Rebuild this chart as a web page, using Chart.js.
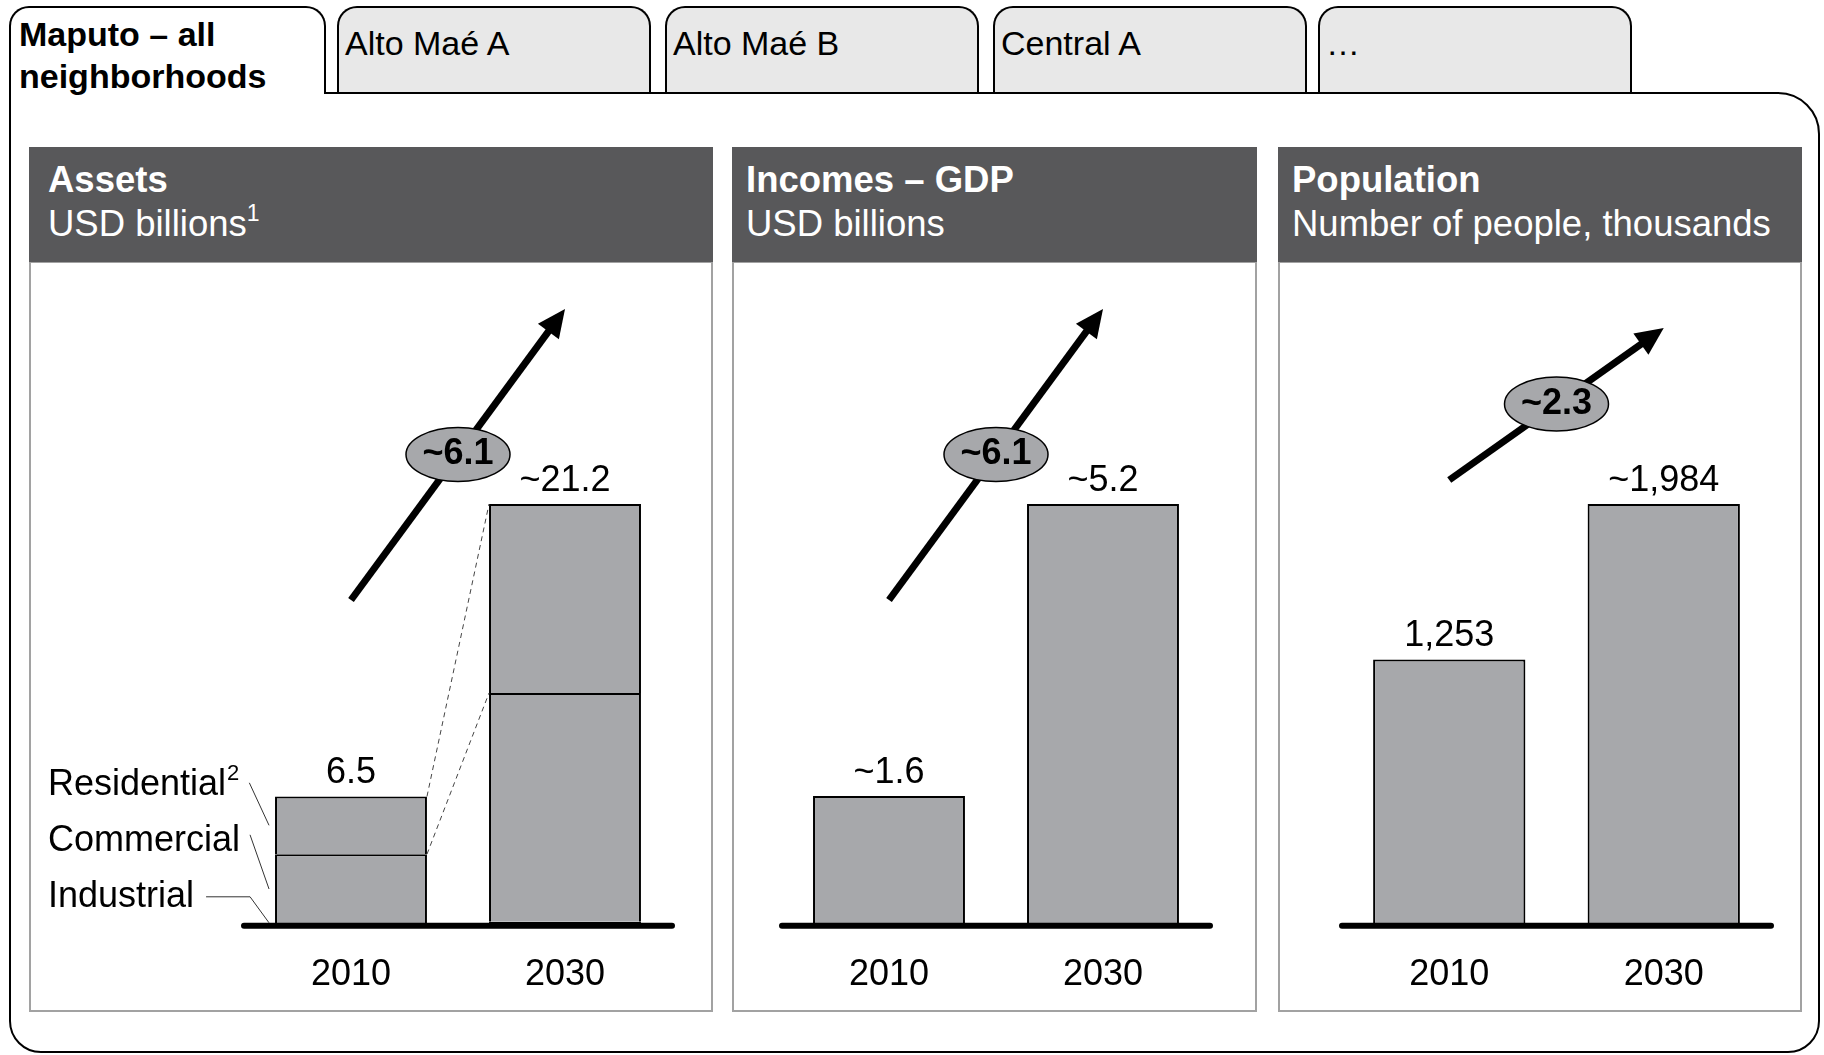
<!DOCTYPE html>
<html>
<head>
<meta charset="utf-8">
<script src="https://cdn.jsdelivr.net/npm/chart.js@4.4.1/dist/chart.umd.min.js"></script>
<style>
  body { margin: 0; width: 1824px; height: 1055px; background: #fff; position: relative; overflow: hidden;
         font-family: "Liberation Sans", Arial, sans-serif; color: #000; }
  .frame { position: absolute; left: 9px; top: 92px; width: 1811px; height: 961px; box-sizing: border-box;
           border: 2px solid #000; border-radius: 0 42px 32px 32px; }
  .tab { position: absolute; top: 6px; height: 86px; box-sizing: border-box; border: 2px solid #000; border-bottom: none;
         border-radius: 20px 20px 0 0; background: #e8e8e8; font-size: 34px; line-height: 42px; padding: 14px 0 0 6px; }
  .tab.active { background: #fff; font-weight: bold; height: 88px; z-index: 2; padding: 5px 0 0 8px; }
  .head { position: absolute; top: 147px; height: 115px; background: #58585a; color: #fff; box-sizing: border-box;
          padding: 11px 0 0 14px; font-size: 36.5px; line-height: 44px; }
  .head b { display: block; }
  .head sup { font-size: 23px; line-height: 0; position: relative; top: -2px; }
  .body { position: absolute; top: 261px; height: 751px; box-sizing: border-box; border: 2px solid #a2a2a2; }
  canvas { position: absolute; top: 263px; }
</style>
</head>
<body>
<div class="frame"></div>
<div class="tab active" style="left:9px;width:317px;">Maputo – all<br>neighborhoods</div>
<div class="tab" style="left:337px;width:314px;">Alto Maé A</div>
<div class="tab" style="left:665px;width:314px;">Alto Maé B</div>
<div class="tab" style="left:993px;width:314px;">Central A</div>
<div class="tab" style="left:1318px;width:314px;">…</div>

<div class="body" style="left:29px;width:684px;"></div>
<div class="body" style="left:732px;width:525px;"></div>
<div class="body" style="left:1278px;width:524px;"></div>
<div class="head" style="left:29px;width:684px;padding-left:19px;"><b>Assets</b>USD billions<sup>1</sup></div>
<div class="head" style="left:732px;width:525px;"><b>Incomes – GDP</b>USD billions</div>
<div class="head" style="left:1278px;width:524px;"><b>Population</b>Number of people, thousands</div>

<canvas id="assets" width="680" height="778" style="left:31px;"></canvas>
<canvas id="incomes" width="521" height="778" style="left:734px;"></canvas>
<canvas id="population" width="520" height="778" style="left:1280px;"></canvas>

<script>
// the numbers
const years = ['2010', '2030'];
const assetParts = ['Industrial', 'Commercial', 'Residential'];
const industrial = [0.1, 0.2];
const commercial = [3.5, 11.5];
const residential = [2.9, 9.5];
const assetLabels = ['6.5', '~21.2'];
const incomes = [1.6, 5.2];
const incomeLabels = ['~1.6', '~5.2'];
const population = [1253, 1984];
const populationLabels = ['1,253', '~1,984'];
const growthLabels = ['~6.1', '~6.1', '~2.3'];

const FONT = '"Liberation Sans", Arial, sans-serif';
const GREY = '#a7a8ab';
Chart.defaults.font.family = FONT;

// labels, growth arrow, and the segment legend on the assets chart
const overlay = {
  id: 'overlay',
  afterDatasetsDraw(chart, args, opts) {
    const ctx = chart.ctx;
    const area = chart.chartArea;
    const n = chart.data.datasets.length;
    const bars = chart.getDatasetMeta(n - 1).data;
    ctx.save();

    // thick base line
    ctx.strokeStyle = '#000';
    ctx.lineWidth = 6;
    ctx.lineCap = 'round';
    ctx.beginPath();
    ctx.moveTo(area.left, area.bottom);
    ctx.lineTo(area.right, area.bottom);
    ctx.stroke();

    // totals above the bars
    ctx.fillStyle = '#000';
    ctx.font = '36px ' + FONT;
    ctx.textAlign = 'center';
    ctx.textBaseline = 'alphabetic';
    bars.forEach((b, i) => ctx.fillText(opts.labels[i], b.x, b.y - 13));

    // growth arrow
    const x0 = bars[0].x, x1 = bars[1].x;
    const y0 = area.top + opts.arrow[0], y1 = area.top + opts.arrow[1];
    const ang = Math.atan2(y1 - y0, x1 - x0);
    const head = 28, hw = 13;
    const bx = x1 - head * Math.cos(ang), by = y1 - head * Math.sin(ang);
    ctx.lineCap = 'butt';
    ctx.lineWidth = 7;
    ctx.beginPath();
    ctx.moveTo(x0, y0);
    ctx.lineTo(bx + 2 * Math.cos(ang), by + 2 * Math.sin(ang));
    ctx.stroke();
    ctx.beginPath();
    ctx.moveTo(x1, y1);
    ctx.lineTo(bx + hw * Math.sin(ang), by - hw * Math.cos(ang));
    ctx.lineTo(bx - hw * Math.sin(ang), by + hw * Math.cos(ang));
    ctx.closePath();
    ctx.fill();

    // CAGR bubble
    const mx = (x0 + x1) / 2, my = (y0 + y1) / 2;
    ctx.beginPath();
    ctx.ellipse(mx, my, 52, 27, 0, 0, Math.PI * 2);
    ctx.fillStyle = GREY;
    ctx.fill();
    ctx.lineWidth = 1.5;
    ctx.stroke();
    ctx.fillStyle = '#000';
    ctx.font = 'bold 36px ' + FONT;
    ctx.textBaseline = 'middle';
    ctx.fillText(opts.growth, mx, my);

    if (opts.legend) {
      const segs = chart.data.datasets.map((d, i) => chart.getDatasetMeta(i).data);
      // dashed links between the 2010 and 2030 segments
      ctx.setLineDash([5, 4]);
      ctx.lineWidth = 1;
      ctx.strokeStyle = '#444';
      [n - 1, n - 2].forEach(d => {
        const a = segs[d][0], b = segs[d][1];
        ctx.beginPath();
        ctx.moveTo(a.x + a.width / 2, a.y);
        ctx.lineTo(b.x - b.width / 2, b.y);
        ctx.stroke();
      });
      ctx.setLineDash([]);

      // segment names with leader lines
      const lx = area.left - 196;
      ctx.textAlign = 'left';
      ctx.strokeStyle = '#333';
      for (let d = 0; d < n; d++) {
        const ly = area.bottom - 29 - 56 * d;
        const name = chart.data.datasets[d].label;
        ctx.fillStyle = '#000';
        ctx.font = '36px ' + FONT;
        ctx.fillText(name, lx, ly);
        let end = lx + ctx.measureText(name).width;
        if (d === n - 1) {
          ctx.font = '22px ' + FONT;
          ctx.fillText('2', end + 1, ly - 11);
          end += ctx.measureText('2').width + 1;
        }
        const seg = segs[d][0];
        const tx = seg.x - seg.width / 2 - 6;
        const ty = d === 0 ? area.bottom - 3 : (seg.y + seg.base) / 2;
        ctx.beginPath();
        if (d === 0) {
          ctx.moveTo(end + 12, ly);
          ctx.lineTo(end + 56, ly);
        } else {
          ctx.moveTo(end + 10, ly - 6 + 4 * (d - 1));
        }
        ctx.lineTo(tx, ty);
        ctx.stroke();
      }
    }
    ctx.restore();
  }
};

function barSet(label, data) {
  return {
    label: label,
    data: data,
    backgroundColor: GREY,
    borderColor: '#000',
    borderWidth: 2,
    barPercentage: 0.71,
    categoryPercentage: 1,
    clip: false
  };
}

function makeChart(id, datasets, pad, extra) {
  const totals = years.map((y, i) => datasets.reduce((s, d) => s + d.data[i], 0));
  return new Chart(document.getElementById(id), {
    type: 'bar',
    data: { labels: years, datasets: datasets },
    options: {
      responsive: false,
      animation: false,
      layout: { padding: { left: pad[0], right: pad[1], top: 241, bottom: 16 } },
      scales: {
        x: {
          stacked: true,
          grid: { display: false, drawTicks: false },
          border: { display: false },
          ticks: { color: '#000', font: { size: 36 }, padding: 28 }
        },
        y: { stacked: true, display: false, min: 0, max: Math.max(...totals) }
      },
      plugins: { legend: { display: false }, tooltip: { enabled: false }, overlay: extra }
    },
    plugins: [overlay]
  });
}

makeChart('assets',
  [barSet(assetParts[0], industrial), barSet(assetParts[1], commercial), barSet(assetParts[2], residential)],
  [213, 39],
  { labels: assetLabels, growth: growthLabels[0], arrow: [96, -195], legend: true });

makeChart('incomes', [barSet('Incomes', incomes)], [48, 45],
  { labels: incomeLabels, growth: growthLabels[1], arrow: [96, -195] });

makeChart('population', [barSet('Population', population)], [62, 29],
  { labels: populationLabels, growth: growthLabels[2], arrow: [-24, -176] });
</script>
</body>
</html>
